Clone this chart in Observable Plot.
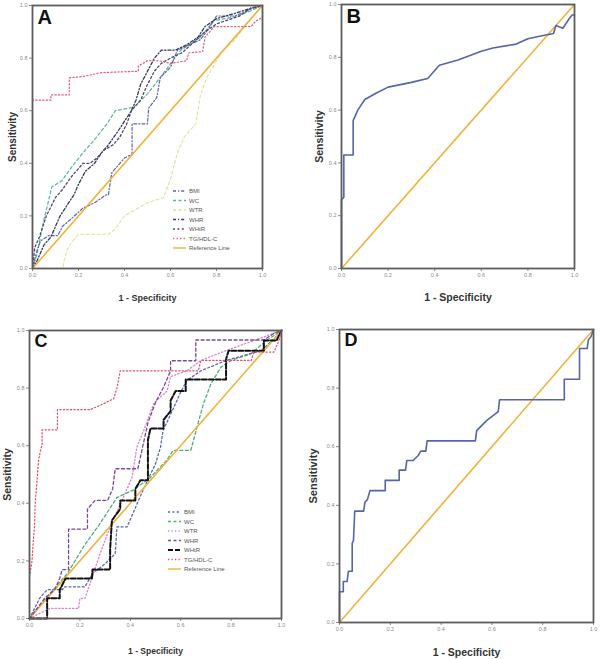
<!DOCTYPE html>
<html><head><meta charset="utf-8">
<script src="https://cdn.jsdelivr.net/npm/d3@7"></script>
<script src="https://cdn.jsdelivr.net/npm/@observablehq/plot@0.6"></script>
<style>
body{margin:0;background:#fff}
#root{position:relative;width:600px;height:659px;font-family:Arial,"Liberation Sans",sans-serif;overflow:hidden}
</style>
</head><body><div id="root"></div>
<script>
// ---------- data ----------
const TICKS = [0, 0.2, 0.4, 0.6, 0.8, 1.0];
const REF = [[0, 0], [1, 1]];

// Panel A
const A_BMI = [[0,0],[0.02,0.07],[0.035,0.105],[0.07,0.125],[0.11,0.125],[0.13,0.16],[0.17,0.19],[0.22,0.23],[0.27,0.25],[0.32,0.28],[0.33,0.28],[0.345,0.365],[0.4,0.42],[0.433,0.435],[0.433,0.55],[0.5,0.55],[0.505,0.61],[0.54,0.65],[0.556,0.727],[0.6,0.765],[0.63,0.83],[0.73,0.87],[0.76,0.905],[0.8,0.96],[0.88,0.96],[0.95,0.987],[1,1]];
const A_WC = [[0,0],[0.02,0.055],[0.048,0.18],[0.07,0.258],[0.084,0.31],[0.128,0.334],[0.17,0.385],[0.21,0.43],[0.266,0.486],[0.324,0.55],[0.36,0.6],[0.44,0.613],[0.5,0.664],[0.556,0.727],[0.6,0.778],[0.644,0.829],[0.73,0.88],[0.79,0.943],[0.876,0.956],[0.95,0.98],[1,1]];
const A_WTR = [[0,0],[0.135,0],[0.135,0.02],[0.15,0.07],[0.17,0.1],[0.2,0.13],[0.33,0.13],[0.36,0.15],[0.4,0.2],[0.44,0.22],[0.5,0.25],[0.57,0.27],[0.6,0.34],[0.63,0.44],[0.66,0.5],[0.71,0.55],[0.73,0.66],[0.76,0.73],[0.82,0.82],[0.88,0.87],[0.93,0.93],[1,1]];
const A_WHR = [[0,0],[0.02,0.03],[0.05,0.09],[0.08,0.12],[0.1,0.16],[0.12,0.2],[0.15,0.24],[0.18,0.28],[0.2,0.32],[0.23,0.37],[0.27,0.4],[0.3,0.44],[0.33,0.47],[0.37,0.52],[0.4,0.56],[0.43,0.6],[0.45,0.64],[0.47,0.7],[0.5,0.75],[0.53,0.8],[0.56,0.83],[0.62,0.83],[0.67,0.85],[0.72,0.88],[0.75,0.92],[0.8,0.95],[0.88,0.97],[0.95,0.99],[1,1]];
const A_WHTR = [[0,0],[0.01,0.08],[0.03,0.12],[0.06,0.2],[0.1,0.27],[0.13,0.3],[0.17,0.35],[0.2,0.38],[0.22,0.4],[0.25,0.4],[0.28,0.42],[0.31,0.45],[0.35,0.47],[0.38,0.5],[0.41,0.55],[0.43,0.6],[0.47,0.64],[0.5,0.7],[0.53,0.75],[0.56,0.78],[0.6,0.8],[0.65,0.82],[0.7,0.86],[0.75,0.9],[0.8,0.93],[0.9,0.96],[0.95,0.99],[1,1]];
const A_TG = [[0,0],[0,0.64],[0.08,0.64],[0.08,0.66],[0.16,0.66],[0.16,0.725],[0.22,0.73],[0.3,0.745],[0.46,0.75],[0.46,0.77],[0.5,0.79],[0.55,0.79],[0.6,0.78],[0.67,0.79],[0.68,0.82],[0.74,0.825],[0.75,0.88],[0.79,0.92],[0.95,0.92],[0.97,0.94],[1,0.955],[1,1]];

// Panel B
const B_CURVE = [[0,0],[0,0.26],[0.01,0.27],[0.01,0.43],[0.05,0.43],[0.05,0.56],[0.07,0.6],[0.1,0.64],[0.15,0.665],[0.2,0.687],[0.3,0.705],[0.37,0.72],[0.4,0.75],[0.42,0.77],[0.5,0.79],[0.6,0.823],[0.65,0.835],[0.75,0.85],[0.8,0.87],[0.85,0.88],[0.91,0.89],[0.92,0.92],[0.95,0.91],[0.98,0.95],[0.99,0.96],[1,0.96]];

// Panel C
const C_BMI = [[0,0],[0.04,0.07],[0.07,0.1],[0.13,0.1],[0.14,0.11],[0.22,0.11],[0.25,0.156],[0.3,0.19],[0.34,0.225],[0.347,0.318],[0.387,0.318],[0.41,0.364],[0.45,0.445],[0.5,0.537],[0.52,0.595],[0.53,0.653],[0.57,0.728],[0.6,0.786],[0.625,0.827],[0.68,0.86],[0.78,0.896],[0.92,0.93],[0.98,0.98],[1,1]];
const C_WC = [[0,0],[0.07,0.075],[0.15,0.156],[0.215,0.25],[0.28,0.33],[0.347,0.42],[0.41,0.445],[0.48,0.49],[0.545,0.55],[0.57,0.584],[0.64,0.584],[0.665,0.665],[0.69,0.745],[0.72,0.815],[0.76,0.873],[0.8,0.896],[0.88,0.92],[0.94,0.965],[1,1]];
const C_WTR = [[0,0],[0.08,0.035],[0.195,0.035],[0.2,0.07],[0.22,0.07],[0.24,0.12],[0.28,0.225],[0.32,0.318],[0.373,0.422],[0.407,0.49],[0.426,0.595],[0.453,0.653],[0.493,0.746],[0.52,0.77],[0.546,0.79],[0.56,0.84],[0.625,0.86],[0.68,0.896],[0.78,0.93],[0.89,0.965],[1,1]];
const C_WHR = [[0,0],[0.06,0.07],[0.1,0.1],[0.12,0.14],[0.13,0.17],[0.155,0.17],[0.155,0.31],[0.23,0.31],[0.23,0.38],[0.26,0.41],[0.31,0.41],[0.33,0.45],[0.34,0.52],[0.43,0.52],[0.45,0.6],[0.47,0.68],[0.5,0.75],[0.53,0.8],[0.56,0.86],[0.56,0.895],[0.66,0.895],[0.66,0.967],[0.93,0.967],[0.97,0.99],[1,1]];
const C_WHTR = [[0,0],[0.07,0],[0.07,0.07],[0.12,0.07],[0.12,0.1],[0.143,0.139],[0.248,0.139],[0.25,0.17],[0.32,0.17],[0.32,0.24],[0.327,0.341],[0.36,0.38],[0.36,0.41],[0.42,0.41],[0.42,0.45],[0.44,0.48],[0.47,0.48],[0.47,0.62],[0.48,0.66],[0.532,0.66],[0.532,0.69],[0.56,0.72],[0.56,0.757],[0.58,0.79],[0.62,0.79],[0.62,0.83],[0.78,0.83],[0.78,0.9],[0.79,0.93],[0.93,0.93],[0.93,0.965],[0.98,0.965],[1,1]];
const C_TG = [[0,0],[0,0.145],[0.01,0.2],[0.015,0.27],[0.02,0.32],[0.022,0.39],[0.036,0.55],[0.045,0.59],[0.05,0.6],[0.05,0.655],[0.111,0.655],[0.111,0.725],[0.24,0.725],[0.28,0.74],[0.334,0.763],[0.347,0.8],[0.36,0.86],[0.67,0.86],[0.68,0.896],[0.88,0.896],[0.89,0.925],[0.97,0.925],[0.99,0.965],[1,1]];

// Panel D
const D_CURVE = [[0,0],[0,0.105],[0.015,0.105],[0.015,0.14],[0.03,0.14],[0.035,0.175],[0.05,0.175],[0.05,0.27],[0.055,0.28],[0.06,0.38],[0.095,0.38],[0.1,0.41],[0.11,0.42],[0.12,0.45],[0.18,0.45],[0.18,0.485],[0.235,0.485],[0.235,0.52],[0.26,0.52],[0.265,0.553],[0.29,0.553],[0.31,0.57],[0.32,0.585],[0.34,0.585],[0.345,0.62],[0.535,0.62],[0.54,0.655],[0.58,0.69],[0.625,0.72],[0.63,0.76],[0.885,0.76],[0.885,0.83],[0.945,0.83],[0.945,0.935],[0.975,0.935],[0.98,0.965],[0.99,0.975],[1,1]];

const NAMES = ["BMI", "WC", "WTR", "WHR", "WHtR", "TG/HDL-C", "Reference Line"];
const LETTERS = ["A", "B", "C", "D"];
const X_TITLE = "1 - Specificity";
const Y_TITLE = "Sensitivity";

// ---------- styles ----------
const ORANGE = "#eeb33c";
const BLUE = "#5566a8";
const DOT = "1.3,2.2", DASH = "3,2.5", DASHDOT = "3,2,1.2,2", DOTS2 = "2,2.4", LONG = "5,2";

const seriesA = [
  {data: A_WTR, color: "#dde39a", dash: DASH, w: 1.1},
  {data: A_WC, color: "#5fb39c", dash: DASH, w: 1.2},
  {data: A_BMI, color: "#5a66b0", dash: DASHDOT, w: 1.2},
  {data: A_WHR, color: "#353858", dash: DASHDOT, w: 1.3},
  {data: A_WHTR, color: "#4f4870", dash: DOTS2, w: 1.3},
  {data: REF, color: ORANGE, dash: null, w: 1.6},
  {data: A_TG, color: "#e0587a", dash: DOT, w: 1.2}
];
const legendA = [
  {name: NAMES[0], color: "#5a66b0", dash: DASHDOT},
  {name: NAMES[1], color: "#5fb39c", dash: DASH},
  {name: NAMES[2], color: "#dde39a", dash: DASH},
  {name: NAMES[3], color: "#353858", dash: DASHDOT},
  {name: NAMES[4], color: "#4f4870", dash: DOTS2},
  {name: NAMES[5], color: "#e0587a", dash: DOT},
  {name: NAMES[6], color: ORANGE, dash: null}
];
const seriesC = [
  {data: C_WC, color: "#4fae78", dash: DASH, w: 1.3},
  {data: C_BMI, color: "#5a66b0", dash: DOTS2, w: 1.3},
  {data: C_WTR, color: "#d486c8", dash: DOT, w: 1.3},
  {data: REF, color: ORANGE, dash: null, w: 1.6},
  {data: C_WHR, color: "#7a4a98", dash: "3,2.5", w: 1.3},
  {data: C_WHTR, color: "#111111", dash: LONG, w: 2},
  {data: C_TG, color: "#e24a66", dash: DOT, w: 1.2}
];
const legendC = [
  {name: NAMES[0], color: "#5a66b0", dash: DOTS2},
  {name: NAMES[1], color: "#4fae78", dash: DASH},
  {name: NAMES[2], color: "#d486c8", dash: DOT},
  {name: NAMES[3], color: "#7a4a98", dash: DASH},
  {name: NAMES[4], color: "#111111", dash: LONG, w: 2},
  {name: NAMES[5], color: "#e24a66", dash: DOT},
  {name: NAMES[6], color: ORANGE, dash: null}
];

const panels = [
  {left: 0, top: 0, w: 300, h: 320, ml: 32, mr: 38, mt: 5, mb: 52, letter: LETTERS[0], lsize: 20, xfs: 9, yfs: 10, xdy: 32, ydx: -20,
   series: seriesA, legend: legendA, lx: 173, ly: 191, lstep: 9.5},
  {left: 300, top: 0, w: 300, h: 320, ml: 41, mr: 26, mt: 4, mb: 52, letter: LETTERS[1], lsize: 20, xfs: 10.5, yfs: 10.5, xdy: 32, ydx: -22,
   series: [{data: REF, color: ORANGE, dash: null, w: 1.6}, {data: B_CURVE, color: BLUE, dash: null, w: 1.6}]},
  {left: 0, top: 320, w: 300, h: 339, ml: 29, mr: 19, mt: 10, mb: 41, letter: LETTERS[2], lsize: 18, xfs: 8.5, yfs: 10.5, xdy: 35, ydx: -22,
   series: seriesC, legend: legendC, lx: 168, ly: 512, lstep: 9.5},
  {left: 300, top: 320, w: 300, h: 339, ml: 39, mr: 7, mt: 9, mb: 37, letter: LETTERS[3], lsize: 18, xfs: 10.5, yfs: 11, xdy: 33, ydx: -26,
   series: [{data: REF, color: ORANGE, dash: null, w: 1.6}, {data: D_CURVE, color: BLUE, dash: null, w: 1.6}]}
];

const root = document.getElementById("root");

for (const p of panels) {
  const svg = Plot.plot({
    width: p.w, height: p.h,
    marginLeft: p.ml, marginRight: p.mr, marginTop: p.mt, marginBottom: p.mb,
    style: {fontFamily: "Arial, 'Liberation Sans', sans-serif", background: "transparent", overflow: "visible"},
    x: {domain: [0, 1]},
    y: {domain: [0, 1]},
    marks: [
      Plot.axisX({ticks: TICKS, tickFormat: d3.format(".1f"), tickSize: 3, tickPadding: 2, fontSize: 5.5, label: null, color: "#8a8a8a"}),
      Plot.axisY({ticks: TICKS, tickFormat: d3.format(".1f"), tickSize: 3, tickPadding: 2, fontSize: 5.5, label: null, color: "#8a8a8a"}),
      ...p.series.map(s => Plot.line(s.data, {x: d => d[0], y: d => d[1], stroke: s.color, strokeWidth: s.w, strokeDasharray: s.dash, curve: "linear"})),
      Plot.frame({stroke: "#5c5c5c", strokeWidth: 1.8}),
      Plot.text([p.letter], {frameAnchor: "top-left", dx: 5, dy: 4, fontSize: p.lsize, fontWeight: "bold", fill: "#111"}),
      Plot.text([X_TITLE], {frameAnchor: "bottom", textAnchor: "middle", dy: p.xdy, fontSize: p.xfs, fontWeight: "bold", fill: "#333"}),
      Plot.text([Y_TITLE], {frameAnchor: "left", textAnchor: "middle", lineAnchor: "middle", rotate: -90, dx: p.ydx, fontSize: p.yfs, fontWeight: "bold", fill: "#333"})
    ]
  });
  svg.style.position = "absolute";
  svg.style.left = p.left + "px";
  svg.style.top = p.top + "px";
  root.appendChild(svg);

  if (p.legend) {
    const lg = d3.select(root).append("svg")
      .attr("width", 70).attr("height", 75)
      .style("position", "absolute")
      .style("left", (p.lx) + "px")
      .style("top", (p.ly - 5) + "px");
    p.legend.forEach((it, i) => {
      const y = 5 + i * p.lstep;
      lg.append("line").attr("x1", 0).attr("x2", 13).attr("y1", y).attr("y2", y)
        .attr("stroke", it.color).attr("stroke-width", it.w || 1.4)
        .attr("stroke-dasharray", it.dash);
      lg.append("text").attr("x", 16).attr("y", y).attr("dy", "0.35em")
        .attr("font-size", 6).attr("fill", "#555")
        .attr("font-family", "Arial, 'Liberation Sans', sans-serif")
        .text(it.name);
    });
  }
}
</script>
</body></html>
